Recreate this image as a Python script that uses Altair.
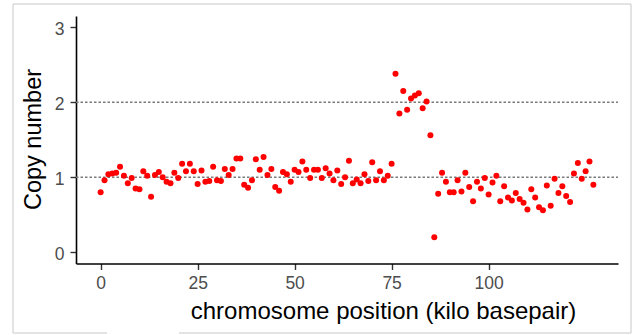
import altair as alt
import pandas as pd

positions = [
    0, 1, 2, 3, 4, 5, 6, 7, 8, 9, 10, 11, 12, 13, 14, 15,
    16, 17, 18, 19, 20, 21, 22, 23, 24, 25, 26, 27, 28, 29, 30, 31,
    32, 33, 34, 35, 36, 37, 38, 39, 40, 41, 42, 43, 44, 45, 46, 47,
    48, 49, 50, 51, 52, 53, 54, 55, 56, 57, 58, 59, 60, 61, 62, 63,
    64, 65, 66, 67, 68, 69, 70, 71, 72, 73, 74, 75, 76, 77, 78, 79,
    80, 81, 82, 83, 84, 85, 86, 87, 88, 89, 90, 91, 92, 93, 94, 95,
    96, 97, 98, 99, 100, 101, 102, 103, 104, 105, 106, 107, 108, 109, 110, 111,
    112, 113, 114, 115, 116, 117, 118, 119, 120, 121, 122, 123, 124, 125, 126, 127,
]
copy_number = [
    0.80, 0.96, 1.04, 1.05, 1.06, 1.14, 1.02, 0.92, 0.99, 0.85, 0.84, 1.08, 1.02, 0.74, 1.03, 1.07,
    1.00, 0.94, 0.92, 1.06, 0.99, 1.18, 1.08, 1.18, 1.08, 0.91, 1.09, 0.94, 0.95, 1.14, 0.96, 0.95,
    1.11, 1.03, 1.11, 1.25, 1.25, 0.90, 0.86, 0.96, 1.24, 1.10, 1.27, 1.03, 1.11, 0.87, 0.82, 1.07,
    1.04, 0.94, 1.10, 1.07, 1.21, 1.10, 0.99, 1.10, 1.10, 0.99, 1.12, 1.05, 0.96, 1.09, 0.91, 1.00,
    1.22, 0.92, 0.97, 0.92, 1.04, 0.95, 1.20, 0.96, 1.08, 0.96, 1.02, 1.18, 2.38, 1.85, 2.15, 1.90,
    2.05, 2.09, 2.12, 1.92, 2.01, 1.56, 0.20, 0.78, 1.06, 0.94, 0.80, 0.80, 0.96, 0.81, 1.06, 0.87,
    0.68, 0.94, 0.85, 0.99, 0.77, 0.93, 1.02, 0.68, 0.88, 0.73, 0.69, 0.79, 0.71, 0.66, 0.57, 0.84,
    0.73, 0.60, 0.56, 0.89, 0.62, 0.98, 0.79, 0.88, 0.75, 0.67, 1.05, 1.19, 0.98, 1.08, 1.21, 0.90,
]
reference_levels = [1, 2]
x_ticks = [0, 25, 50, 75, 100]
y_ticks = [0, 1, 2, 3]

W, H = 542, 247.5
FONT = "Liberation Sans, Arial, Helvetica, sans-serif"

df = pd.DataFrame({"pos": positions, "cn": copy_number})
ref = pd.DataFrame({"level": reference_levels})

x_scale = alt.Scale(domain=[-6.35, 133.35], nice=False, zero=False)
y_scale = alt.Scale(domain=[-0.15, 3.15], nice=False, zero=False)

x_axis = alt.Axis(
    values=x_ticks, title="chromosome position (kilo basepair)", grid=False,
    domainColor="black", domainWidth=1.6, tickColor="#333333", tickWidth=1.4, tickSize=6,
    labelFont=FONT, labelFontSize=17.5, labelColor="#4d4d4d", labelPadding=5,
    titleFont=FONT, titleFontSize=24, titleFontWeight="normal", titleColor="black",
    titleX=307, titleY=54.7, titleAlign="center", titleBaseline="alphabetic",
)
y_axis = alt.Axis(
    values=y_ticks, title="Copy number", grid=False,
    domainColor="black", domainWidth=1.6, tickColor="#333333", tickWidth=1.4, tickSize=6,
    labelFont=FONT, labelFontSize=17.5, labelColor="#4d4d4d", labelPadding=6, labelOffset=2,
    titleFont=FONT, titleFontSize=23.5, titleFontWeight="normal", titleColor="black",
    titleX=-35.5, titleY=123, titleAlign="center", titleBaseline="alphabetic", titleAngle=270,
)

rules = alt.Chart(ref).mark_rule(
    color="#7a7a7a", strokeDash=[2.5, 2], strokeWidth=1.3
).encode(
    y=alt.Y("level:Q", scale=y_scale, axis=y_axis),
    x=alt.value(0), x2=alt.value(W),
)

points = alt.Chart(df).mark_circle(size=36, color="#ff0000", opacity=1).encode(
    x=alt.X("pos:Q", scale=x_scale, axis=x_axis),
    y=alt.Y("cn:Q", scale=y_scale, axis=y_axis),
)

frame_color = "#c8c8c8"
frame = pd.DataFrame({"k": [0]})
top_line = alt.Chart(frame).mark_rule(color=frame_color, strokeWidth=1).encode(
    x=alt.value(-63), x2=alt.value(555), y=alt.value(-12))
right_line = alt.Chart(frame).mark_rule(color=frame_color, strokeWidth=1).encode(
    x=alt.value(555), y=alt.value(-12), y2=alt.value(317))
left_line = alt.Chart(frame).mark_rule(color=frame_color, strokeWidth=1).encode(
    x=alt.value(-63), y=alt.value(-12), y2=alt.value(317))
bottom_line1 = alt.Chart(frame).mark_rule(color=frame_color, strokeWidth=1).encode(
    x=alt.value(-63), x2=alt.value(31), y=alt.value(317))
bottom_line2 = alt.Chart(frame).mark_rule(color=frame_color, strokeWidth=1).encode(
    x=alt.value(103), x2=alt.value(555), y=alt.value(317))

chart = alt.layer(
    top_line, right_line, left_line, bottom_line1, bottom_line2, rules, points
).properties(
    width=W, height=H,
    padding={"left": 76, "top": 16, "right": 18, "bottom": 71.5},
    autosize=alt.AutoSizeParams(type="none"),
    background="white",
).configure_view(stroke=None).configure_axis(labelFontWeight="normal")

chart.save("out.html", embed_options={"renderer": "svg", "actions": False})
